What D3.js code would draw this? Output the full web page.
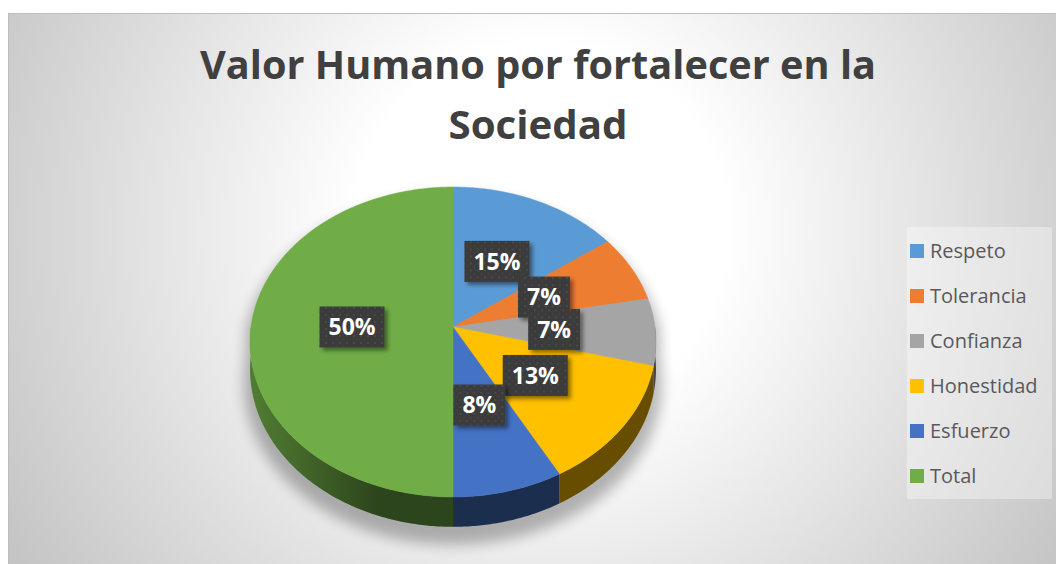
<!DOCTYPE html>
<html>
<head>
<meta charset="utf-8">
<script src="https://cdn.jsdelivr.net/npm/d3@7"></script>
<style>
  body { margin: 0; background: #fff; }
  svg { display: block; }
</style>
</head>
<body>
<div id="chart"></div>
<script>
// data
var categories = ['Respeto', 'Tolerancia', 'Confianza', 'Honestidad', 'Esfuerzo', 'Total'];
var values = [15, 7, 7, 13, 8, 50];
var colors = ['#5B9BD5', '#ED7D31', '#A5A5A5', '#FFC000', '#4472C4', '#70AD47'];
var titleLines = ['Valor Humano por fortalecer en la', 'Sociedad'];

var width = 1056, height = 564;

var svg = d3.select('#chart')
  .append('svg')
  .attr('width', width)
  .attr('height', height);

var defs = svg.append('defs');

// background gradient of the chart area
var bg = defs.append('radialGradient')
  .attr('id', 'bg')
  .attr('gradientUnits', 'userSpaceOnUse')
  .attr('cx', 540).attr('cy', 230).attr('r', 620);
bg.append('stop').attr('offset', 0).attr('stop-color', '#ffffff');
bg.append('stop').attr('offset', 0.3).attr('stop-color', '#ffffff');
bg.append('stop').attr('offset', 1).attr('stop-color', '#c4c4c4');

// dotted dark fill for the data labels
var pat = defs.append('pattern')
  .attr('id', 'dots')
  .attr('patternUnits', 'userSpaceOnUse')
  .attr('width', 7).attr('height', 7);
pat.append('rect').attr('width', 7).attr('height', 7).attr('fill', '#3b3b3b');
pat.append('circle').attr('cx', 2).attr('cy', 2).attr('r', 1).attr('fill', '#4d4d4d');
pat.append('circle').attr('cx', 5.5).attr('cy', 5.5).attr('r', 0.8).attr('fill', '#444');

var shadowBlur = defs.append('filter').attr('id', 'pieShadow')
  .attr('x', '-20%').attr('y', '-20%').attr('width', '140%').attr('height', '140%');
shadowBlur.append('feGaussianBlur').attr('stdDeviation', 7);

var labelShadow = defs.append('filter').attr('id', 'labelShadow')
  .attr('x', '-20%').attr('y', '-20%').attr('width', '150%').attr('height', '150%');
labelShadow.append('feDropShadow')
  .attr('dx', 3).attr('dy', 3).attr('stdDeviation', 2)
  .attr('flood-color', '#000').attr('flood-opacity', 0.45);

// chart area
svg.append('rect')
  .attr('x', 8.5).attr('y', 13.5)
  .attr('width', width).attr('height', height)
  .attr('fill', 'url(#bg)')
  .attr('stroke', '#bdbdbd');

// title
svg.selectAll('text.title')
  .data(titleLines)
  .enter()
  .append('text')
  .attr('class', 'title')
  .attr('x', 538)
  .attr('y', function(d, i){ return 79 + i * 60 })
  .attr('text-anchor', 'middle')
  .attr('textLength', function(d, i){ return i === 0 ? 676 : 179 })
  .attr('lengthAdjust', 'spacingAndGlyphs')
  .style('font-family', '"Open Sans", sans-serif')
  .style('font-weight', 'bold')
  .style('font-size', '39px')
  .style('fill', '#404040')
  .text(function(d){ return d });

// 3d pie geometry (slight perspective like the original)
var cx = 453, cy = 327, rx = 202, ry = 153.5, k = 0.0968, depth = 27;

function proj(a, r, h){
  var u = r * Math.sin(a), v = -r * Math.cos(a);
  var s = 1 / (1 - k * v);
  return [cx + rx * u * s, cy + ry * v * s + depth * h * s];
}

var pie = d3.pie().sort(null).value(function(d){ return d.value });
var total = d3.sum(values);
var slices = pie(categories.map(function(c, i){ return { name: c, value: values[i], color: colors[i] } }));
var line = d3.line();

function arcPoints(a0, a1, r, h){
  var n = Math.max(2, Math.ceil((a1 - a0) / 0.01));
  return d3.range(n + 1).map(function(i){ return proj(a0 + (a1 - a0) * i / n, r, h) });
}

// soft shadow under the pie
var outline = d3.range(0, 361).map(function(deg){
  var a = deg * Math.PI / 180;
  var front = -Math.cos(a) > -0.05;
  var p = proj(a, 1.03, front ? 1 : 0);
  return [p[0], p[1] + 12];
});
svg.append('path')
  .attr('d', line(outline) + 'Z')
  .attr('fill', '#000')
  .attr('opacity', 0.28)
  .attr('filter', 'url(#pieShadow)');

// side walls: darker toward the front, a bit lighter at the left edge
var leftX = proj(Math.PI * 1.5, 1, 0)[0], rightX = proj(Math.PI * 0.5, 1, 0)[0];
var turnX = proj(200 * Math.PI / 180, 1, 0)[0];
slices.forEach(function(d, i){
  var c = d3.rgb(d.data.color);
  var shade = function(f){ return d3.rgb(c.r * f, c.g * f, c.b * f).formatHex() };
  var g = defs.append('linearGradient')
    .attr('id', 'side' + i)
    .attr('gradientUnits', 'userSpaceOnUse')
    .attr('x1', leftX).attr('x2', rightX).attr('y1', 0).attr('y2', 0);
  g.append('stop').attr('offset', 0).attr('stop-color', shade(0.72));
  g.append('stop').attr('offset', (turnX - leftX) / (rightX - leftX)).attr('stop-color', shade(0.4));
  g.append('stop').attr('offset', 1).attr('stop-color', shade(0.4));
});

svg.append('g').selectAll('path')
  .data(slices.filter(function(d){ return d.endAngle > Math.PI / 2 && d.startAngle < Math.PI * 1.5 }))
  .enter()
  .append('path')
  .attr('d', function(d){
    var a0 = Math.max(d.startAngle, Math.PI / 2);
    var a1 = Math.min(d.endAngle, Math.PI * 1.5);
    var pts = arcPoints(a0, a1, 1, 0).concat(arcPoints(a0, a1, 1, 1).reverse());
    return line(pts) + 'Z';
  })
  .attr('fill', function(d){ return 'url(#side' + d.index + ')' });

// top faces
svg.append('g').selectAll('path')
  .data(slices)
  .enter()
  .append('path')
  .attr('d', function(d){
    return line([[cx, cy]].concat(arcPoints(d.startAngle, d.endAngle, 1, 0))) + 'Z';
  })
  .attr('fill', function(d){ return d.data.color })
  .attr('stroke', function(d){ return d.data.color })
  .attr('stroke-width', 0.5);

// data labels
var pct = d3.format('.0%');
var labels = svg.append('g').selectAll('g')
  .data(slices)
  .enter()
  .append('g')
  .attr('transform', function(d){
    var p = proj((d.startAngle + d.endAngle) / 2, 0.5, 0);
    return 'translate(' + p[0] + ',' + p[1] + ')';
  });

labels.append('rect').attr('class', 'box');
labels.append('text')
  .attr('text-anchor', 'middle')
  .attr('dy', '0.36em')
  .style('font-family', '"Open Sans", sans-serif')
  .style('font-weight', 'bold')
  .style('font-size', '23px')
  .style('fill', '#ffffff')
  .text(function(d){ return pct(d.value / total) });

labels.each(function(){
  var g = d3.select(this);
  var w = g.select('text').node().getComputedTextLength() + 18;
  g.select('rect')
    .attr('x', -w / 2).attr('y', -20.5)
    .attr('width', w).attr('height', 41)
    .attr('fill', 'url(#dots)')
    .attr('filter', 'url(#labelShadow)');
});

// legend
svg.append('rect')
  .attr('x', 907).attr('y', 227)
  .attr('width', 145).attr('height', 272)
  .attr('fill', '#ffffff')
  .attr('fill-opacity', 0.35);

var legend = svg.append('g').selectAll('g')
  .data(categories)
  .enter()
  .append('g')
  .attr('transform', function(d, i){ return 'translate(910,' + (251 + i * 45) + ')' });

legend.append('rect')
  .attr('x', 0).attr('y', -7)
  .attr('width', 14).attr('height', 14)
  .attr('fill', function(d, i){ return colors[i] });

legend.append('text')
  .attr('x', 20)
  .attr('dy', '0.36em')
  .style('font-family', '"Open Sans", sans-serif')
  .style('font-size', '20px')
  .style('fill', '#595959')
  .text(function(d){ return d });
</script>
</body>
</html>
